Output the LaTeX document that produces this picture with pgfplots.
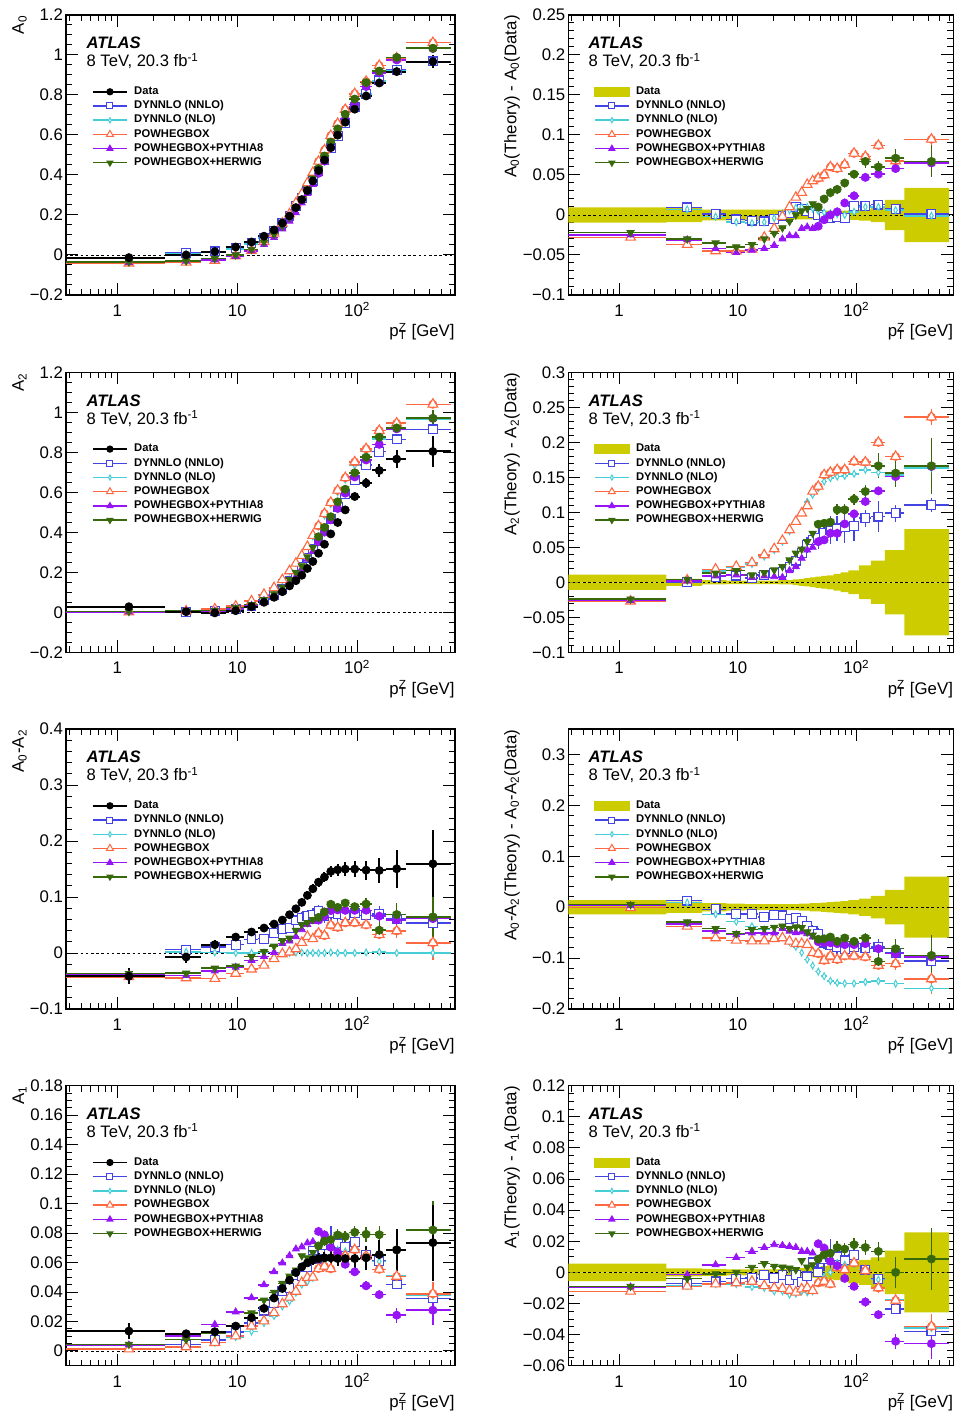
\documentclass[border=0pt]{standalone}
\usepackage{fontspec}
\setmainfont{Liberation Sans}
\usepackage{pgfplots}
\usepackage{pgfplotstable}
\pgfplotsset{compat=1.18}

\definecolor{cNN}{RGB}{68,68,228}
\definecolor{cNL}{RGB}{70,206,214}
\definecolor{cPO}{RGB}{255,104,64}
\definecolor{cPY}{RGB}{150,20,245}
\definecolor{cHW}{RGB}{55,105,10}
\definecolor{cBand}{RGB}{204,204,0}

\newcommand{\tkf}{\fontsize{8.4}{10}\selectfont}
\newcommand{\lgf}{\fontsize{5.6}{6.5}\selectfont\bfseries}

\pgfplotsset{
  hb/.style={forget plot, jump mark left, mark=none, line width=#1},
  mk/.style={forget plot, only marks, skip coords between index={23}{24}},
  ve/.style={forget plot, only marks, mark=none, skip coords between index={0}{#1}, skip coords between index={23}{24},
    error bars/y dir=both, error bars/y explicit, error bars/error mark=none,
    error bars/error bar style={line width=0.75pt}},
  zl/.style={forget plot, black, line width=0.4pt, dash pattern=on 1.3pt off 1.3pt, mark=none},
  every axis/.append style={
    scale only axis, height=140pt, anchor=north west,
    xmode=log, xmin=0.374, xmax=652,
    xtick={1,10,100}, xticklabels={1,10,{10\textsuperscript{2}}},
    minor xtick={0.4,0.5,0.6,0.7,0.8,0.9,2,3,4,5,6,7,8,9,20,30,40,50,60,70,80,90,200,300,400,500,600},
    tick align=inside, major tick length=6pt, minor tick length=3pt,
    every tick/.style={black, line width=0.5pt},
    axis line style={line width=0.6pt},
    tick label style={font=\tkf},
    yticklabel style={inner xsep=1.3pt},
    xticklabel style={anchor=base, yshift=-10.8pt},
    xlabel={p\rlap{\textsuperscript{Z}}\textsubscript{T} [GeV]},
    legend cell align=left,
    legend style={draw=none, fill=none, font=\lgf, at={(axis description cs:0.066,0.75)}, anchor=north west, inner sep=0pt, row sep=0.7pt, column sep=2.6pt, nodes={inner sep=0.6pt, text height=4pt, text depth=1.2pt}},
  },
  every axis x label/.style={at={(axis description cs:1,-0.149)}, anchor=base east, inner sep=0pt, font=\tkf},
  every axis y label/.style={at={(axis description cs:-0.1,1)}, rotate=90, anchor=south east, inner sep=0pt, font=\tkf},
}

\newcommand{\theory}[1]{%
  \addplot[hb=0.75pt, cNN] table[x expr=\thisrow{x}-\thisrow{exm}, y=nn]{#1};
  \addplot[ve=8, cNN] table[x=x, y=nn, y error=nne]{#1};
  \addplot[mk, cNN, mark=square*, mark size=2.2pt, mark options={line width=0.55pt, fill=white}] table[x=x, y=nn]{#1};
  \addplot[hb=0.75pt, cNL] table[x expr=\thisrow{x}-\thisrow{exm}, y=nl]{#1};
  \addplot[mk, cNL, mark=diamond*, mark size=1.7pt, mark options={line width=0.5pt, xscale=0.7, fill=white}] table[x=x, y=nl]{#1};
  \addplot[hb=0.75pt, cPO] table[x expr=\thisrow{x}-\thisrow{exm}, y=po]{#1};
  \addplot[ve=13, cPO] table[x=x, y=po, y error=poe]{#1};
  \addplot[mk, cPO, mark=triangle*, mark size=2.8pt, mark options={line width=0.55pt, fill=white}] table[x=x, y=po]{#1};
  \addplot[hb=0.75pt, cPY] table[x expr=\thisrow{x}-\thisrow{exm}, y=py]{#1};
  \addplot[ve=13, cPY] table[x=x, y=py, y error=pye]{#1};
  \addplot[mk, cPY, mark=triangle*, mark size=2pt] table[x=x, y=py]{#1};
  \addplot[hb=0.75pt, cHW] table[x expr=\thisrow{x}-\thisrow{exm}, y=hw]{#1};
  \addplot[ve=13, cHW] table[x=x, y=hw, y error=hwe]{#1};
  \addplot[mk, cHW, mark=triangle*, mark size=2.1pt, mark options={rotate=180}] table[x=x, y=hw]{#1};
}
\newcommand{\leftplots}[1]{%
  \addplot[zl] coordinates {(0.3,0) (700,0)};
  \theory{#1}
  \addplot[hb=1pt, black] table[x expr=\thisrow{x}-\thisrow{exm}, y=d]{#1};
  \addplot[mk, black, mark=*, mark size=2pt, error bars/y dir=both, error bars/y explicit, error bars/error mark=none, error bars/error bar style={line width=1pt}] table[x=x, y=d, y error=de]{#1};
}
\newcommand{\rightplots}[2]{%
  \addplot[forget plot, draw=none, fill=cBand, const plot, mark=none] table[x=lo,y=de]{#2} \closedcycle;
  \addplot[forget plot, draw=none, fill=cBand, const plot, mark=none] table[x=lo,y expr=-\thisrow{de}]{#2} \closedcycle;
  \addplot[zl] coordinates {(0.3,0) (700,0)};
  \theory{#1}
}
\newcommand{\legcommon}{%
  \addlegendimage{cNN, line width=0.7pt, mark=square*, mark size=1.5pt, mark options={line width=0.5pt, fill=white}}
  \addlegendentry{DYNNLO (NNLO)}
  \addlegendimage{cNL, line width=0.7pt, mark=diamond*, mark size=1.3pt, mark options={line width=0.5pt, xscale=0.7, fill=white}}
  \addlegendentry{DYNNLO (NLO)}
  \addlegendimage{cPO, line width=0.7pt, mark=triangle*, mark size=2pt, mark options={line width=0.5pt, fill=white}}
  \addlegendentry{POWHEGBOX}
  \addlegendimage{cPY, line width=0.7pt, mark=triangle*, mark size=1.5pt}
  \addlegendentry{POWHEGBOX+PYTHIA8}
  \addlegendimage{cHW, line width=0.7pt, mark=triangle*, mark size=1.5pt, mark options={rotate=180}}
  \addlegendentry{POWHEGBOX+HERWIG}
}
\newcommand{\legL}{\addlegendimage{black, line width=0.8pt, mark=*, mark size=1.4pt}\addlegendentry{Data}\legcommon}
\newcommand{\legR}{\addlegendimage{legend image code/.code={\fill[cBand] (0cm,-0.08cm) rectangle (0.6cm,0.08cm);}}\addlegendentry{Data}\legcommon}
\newcommand{\atl}{%
  \node[anchor=base west, inner sep=0pt, font=\fontsize{8.3}{10}\selectfont\bfseries\itshape] at (rel axis cs:0.052,0.879) {ATLAS};
  \node[anchor=base west, inner sep=0pt, font=\fontsize{8.3}{10}\selectfont] at (rel axis cs:0.052,0.815) {8 TeV, 20.3 fb\textsuperscript{-1}};
}

% ---------------- A0 ----------------
\pgfplotstableread{
x exm exp d de nn nne nl po poe py pye hw hwe
1.25 0.95 1.25 -0.013 0.0095 nan nan nan -0.041 0.002 -0.038 0.002 -0.035 0.002
3.75 1.25 1.25 0.000 0.009 0.0095 0.002 0.007 -0.037 0.002 -0.031 0.002 -0.030 0.002
6.5 1.5 1.5 0.017 0.0068 0.018 0.002 0.015 -0.028 0.002 -0.025 0.002 -0.018 0.002
9.7 1.7 1.7 0.040 0.0068 0.0345 0.002 0.031 -0.005 0.002 -0.007 0.002 0.000 0.002
13.15 1.75 1.75 0.065 0.0068 0.058 0.002 0.055 0.022 0.002 0.021 0.002 0.028 0.002
16.7 1.8 1.8 0.094 0.0068 0.086 0.002 0.085 0.066 0.002 0.052 0.002 0.064 0.002
20.25 1.75 1.75 0.125 0.0068 0.120 0.002 0.121 0.108 0.002 0.087 0.002 0.102 0.002
23.75 1.75 1.75 0.160 0.0068 0.159 0.002 0.162 0.158 0.002 0.130 0.002 0.144 0.002
27.25 1.75 1.75 0.195 0.0068 0.197 0.002 0.201 0.205 0.002 0.169 0.002 0.187 0.002
30.8 1.8 1.8 0.237 0.0055 0.247 0.002 0.246 0.259 0.002 0.211 0.002 0.237 0.002
34.5 1.9 1.9 0.277 0.0055 0.285 0.002 0.287 0.305 0.002 0.260 0.002 0.282 0.002
38.4 2.0 2.0 0.322 0.0055 0.327 0.002 0.332 0.360 0.002 0.307 0.002 0.330 0.002
42.65 2.25 2.25 0.370 0.0055 0.372 0.002 0.378 0.4125 0.002 0.353 0.002 0.384 0.002
47.55 2.65 2.65 0.422 0.0055 0.422 0.002 0.427 0.468 0.002 0.408 0.002 0.432 0.002
53.3 3.1 3.1 0.475 0.0055 0.473 0.002 0.478 0.525 0.002 0.469 0.002 0.495 0.002
60.15 3.75 3.75 0.537 0.0055 0.533 0.002 0.539 0.597 0.002 0.537 0.002 0.565 0.003
68.65 4.75 4.75 0.599 0.0055 0.596 0.002 0.600 0.657 0.002 0.603 0.002 0.631 0.003
79.4 6.0 6.0 0.664 0.0055 0.660 0.003 0.664 0.727 0.003 0.679 0.003 0.704 0.003
95.2 9.8 9.8 0.729 0.006 0.740 0.003 0.733 0.806 0.003 0.753 0.003 0.780 0.004
118.5 13.5 13.5 0.795 0.007 0.806 0.003 0.805 0.868 0.004 0.842 0.004 0.862 0.008
152.5 20.5 20.5 0.860 0.009 0.873 0.003 0.870 0.947 0.004 0.911 0.004 0.920 0.008
213 40 40 0.917 0.019 0.9245 0.004 0.923 0.9845 0.005 0.975 0.005 0.988 0.011
426.5 173.5 173.5 0.967 0.034 0.968 0.004 0.966 1.0616 0.008 1.032 0.008 1.034 0.020
600 0 0 0.967 0 0.968 0 0.966 1.0616 0 1.032 0 1.034 0
}\tA
\pgfplotstableread{
x exm exp nn nne nl po poe py pye hw hwe
1.25 0.95 1.25 nan nan nan -0.028 0.002 -0.025 0.002 -0.022 0.002
3.75 1.25 1.25 0.0095 0.002 0.007 -0.037 0.002 -0.031 0.002 -0.030 0.002
6.5 1.5 1.5 0.001 0.002 -0.002 -0.045 0.002 -0.042 0.002 -0.035 0.002
9.7 1.7 1.7 -0.0055 0.002 -0.009 -0.045 0.002 -0.047 0.002 -0.040 0.002
13.15 1.75 1.75 -0.007 0.002 -0.010 -0.043 0.002 -0.044 0.002 -0.037 0.002
16.7 1.8 1.8 -0.008 0.002 -0.009 -0.028 0.002 -0.042 0.002 -0.030 0.002
20.25 1.75 1.75 -0.005 0.002 -0.004 -0.017 0.002 -0.038 0.002 -0.023 0.002
23.75 1.75 1.75 -0.001 0.002 0.002 -0.002 0.002 -0.030 0.002 -0.016 0.002
27.25 1.75 1.75 0.002 0.002 0.006 0.010 0.002 -0.026 0.002 -0.008 0.002
30.8 1.8 1.8 0.010 0.002 0.009 0.022 0.002 -0.026 0.002 0.000 0.002
34.5 1.9 1.9 0.008 0.002 0.010 0.028 0.002 -0.017 0.002 0.005 0.002
38.4 2.0 2.0 0.005 0.002 0.010 0.038 0.002 -0.015 0.002 0.008 0.002
42.65 2.25 2.25 0.002 0.002 0.008 0.0425 0.002 -0.017 0.002 0.014 0.002
47.55 2.65 2.65 0.000 0.002 0.005 0.046 0.002 -0.014 0.002 0.010 0.002
53.3 3.1 3.1 -0.002 0.002 0.003 0.050 0.002 -0.006 0.002 0.020 0.002
60.15 3.75 3.75 -0.004 0.002 0.002 0.060 0.002 0.000 0.002 0.028 0.003
68.65 4.75 4.75 -0.003 0.002 0.001 0.058 0.002 0.004 0.002 0.032 0.003
79.4 6.0 6.0 -0.004 0.003 0.000 0.063 0.003 0.015 0.003 0.040 0.003
95.2 9.8 9.8 0.011 0.003 0.004 0.077 0.003 0.024 0.003 0.051 0.004
118.5 13.5 13.5 0.011 0.003 0.010 0.073 0.004 0.047 0.004 0.067 0.008
152.5 20.5 20.5 0.013 0.003 0.010 0.087 0.004 0.051 0.004 0.060 0.008
213 40 40 0.0075 0.004 0.006 0.0675 0.005 0.058 0.005 0.071 0.011
426.5 173.5 173.5 0.001 0.004 -0.001 0.0946 0.008 0.065 0.008 0.067 0.020
600 0 0 0.001 0 -0.001 0.0946 0 0.065 0 0.067 0
}\tdA
\pgfplotstableread{
lo de
0.3 0.0095
2.5 0.009
5 0.0068
8 0.0068
11.4 0.0068
14.9 0.0068
18.5 0.0068
22 0.0068
25.5 0.0068
29 0.0055
32.6 0.0055
36.4 0.0055
40.4 0.0055
44.9 0.0055
50.2 0.0055
56.4 0.0055
63.9 0.0055
73.4 0.0055
85.4 0.006
105 0.007
132 0.009
173 0.019
253 0.034
600 0.034
}\bA

% ---------------- A2 ----------------
\pgfplotstableread{
x exm exp d de nn nne nl po poe py pye hw hwe
1.25 0.95 1.25 0.028 0.011 nan nan nan 0.001 0.002 0.002 0.002 0.004 0.002
3.75 1.25 1.25 0.003 0.005 0.003 0.003 0.005 0.006 0.002 0.005 0.002 0.007 0.002
6.5 1.5 1.5 -0.003 0.003 0.005 0.003 0.013 0.0156 0.002 0.006 0.002 0.010 0.002
9.7 1.7 1.7 0.008 0.0025 0.0175 0.003 0.029 0.0305 0.002 0.0185 0.002 0.0247 0.002
13.15 1.75 1.75 0.028 0.0025 0.0337 0.003 0.054 0.056 0.002 0.035 0.002 0.0385 0.002
16.7 1.8 1.8 0.050 0.0025 0.0605 0.003 0.0867 0.089 0.002 0.059 0.002 0.0638 0.002
20.25 1.75 1.75 0.075 0.0025 0.0879 0.003 0.121 0.1227 0.002 0.083 0.002 0.0926 0.002
23.75 1.75 1.75 0.103 0.003 0.118 0.003 0.161 0.1626 0.002 0.110 0.002 0.1254 0.002
27.25 1.75 1.75 0.132 0.003 0.1544 0.006 0.205 0.2068 0.002 0.1487 0.002 0.164 0.002
30.8 1.8 1.8 0.158 0.004 0.189 0.008 0.246 0.2448 0.002 0.1804 0.002 0.1995 0.002
34.5 1.9 1.9 0.185 0.005 0.2265 0.010 0.286 0.2837 0.002 0.2193 0.002 0.2323 0.002
38.4 2.0 2.0 0.219 0.006 0.2724 0.012 0.334 0.328 0.002 0.265 0.002 0.277 0.002
42.65 2.25 2.25 0.254 0.007 0.3145 0.012 0.379 0.384 0.002 0.304 0.002 0.324 0.004
47.55 2.65 2.65 0.295 0.008 0.358 0.015 0.4295 0.432 0.002 0.353 0.002 0.378 0.004
53.3 3.1 3.1 0.340 0.009 0.410 0.015 0.484 0.4935 0.002 0.4005 0.002 0.4244 0.004
60.15 3.75 3.75 0.392 0.010 0.466 0.020 0.5408 0.549 0.002 0.462 0.002 0.478 0.004
68.65 4.75 4.75 0.449 0.012 0.526 0.018 0.600 0.6097 0.003 0.519 0.003 0.5525 0.008
79.4 6.0 6.0 0.512 0.014 0.5907 0.022 0.664 0.6727 0.003 0.5954 0.003 0.6155 0.008
95.2 9.8 9.8 0.579 0.017 0.6596 0.022 0.734 0.7516 0.004 0.6767 0.004 0.6977 0.008
118.5 13.5 13.5 0.646 0.024 0.7375 0.012 0.8067 0.8176 0.004 0.7614 0.005 0.7757 0.010
152.5 20.5 20.5 0.709 0.031 0.8029 0.022 0.866 0.9088 0.005 0.8396 0.006 0.8754 0.018
213 40 40 0.766 0.046 0.8647 0.012 0.9195 0.9457 0.007 0.917 0.010 0.922 0.020
426.5 173.5 173.5 0.804 0.076 0.9146 0.010 0.967 1.040 0.012 0.9694 0.020 0.9704 0.040
600 0 0 0.804 0 0.9146 0 0.967 1.040 0 0.9694 0 0.9704 0
}\tB
\pgfplotstableread{
x exm exp nn nne nl po poe py pye hw hwe
1.25 0.95 1.25 nan nan nan -0.027 0.002 -0.026 0.002 -0.024 0.002
3.75 1.25 1.25 0.000 0.003 0.002 0.003 0.002 0.002 0.002 0.004 0.002
6.5 1.5 1.5 0.008 0.003 0.016 0.0186 0.002 0.009 0.002 0.013 0.002
9.7 1.7 1.7 0.0095 0.003 0.021 0.0225 0.002 0.0105 0.002 0.0167 0.002
13.15 1.75 1.75 0.0057 0.003 0.026 0.028 0.002 0.007 0.002 0.0105 0.002
16.7 1.8 1.8 0.0105 0.003 0.0367 0.039 0.002 0.009 0.002 0.0138 0.002
20.25 1.75 1.75 0.0129 0.003 0.046 0.0477 0.002 0.008 0.002 0.0176 0.002
23.75 1.75 1.75 0.015 0.003 0.058 0.0596 0.002 0.007 0.002 0.0224 0.002
27.25 1.75 1.75 0.0224 0.006 0.073 0.0748 0.002 0.0167 0.002 0.032 0.002
30.8 1.8 1.8 0.031 0.008 0.088 0.0868 0.002 0.0224 0.002 0.0415 0.002
34.5 1.9 1.9 0.0415 0.010 0.101 0.0987 0.002 0.0343 0.002 0.0473 0.002
38.4 2.0 2.0 0.0534 0.012 0.115 0.109 0.002 0.046 0.002 0.058 0.002
42.65 2.25 2.25 0.0605 0.012 0.125 0.130 0.002 0.050 0.002 0.070 0.004
47.55 2.65 2.65 0.063 0.015 0.1345 0.137 0.002 0.058 0.002 0.083 0.004
53.3 3.1 3.1 0.070 0.015 0.144 0.1535 0.002 0.0605 0.002 0.0844 0.004
60.15 3.75 3.75 0.074 0.020 0.1488 0.157 0.002 0.070 0.002 0.086 0.004
68.65 4.75 4.75 0.077 0.018 0.151 0.1607 0.003 0.070 0.003 0.1035 0.008
79.4 6.0 6.0 0.0787 0.022 0.152 0.1607 0.003 0.0834 0.003 0.1035 0.008
95.2 9.8 9.8 0.0806 0.022 0.155 0.1726 0.004 0.0977 0.004 0.1187 0.008
118.5 13.5 13.5 0.0915 0.012 0.1607 0.1716 0.004 0.1154 0.005 0.1297 0.010
152.5 20.5 20.5 0.0939 0.022 0.157 0.1998 0.005 0.1306 0.006 0.1664 0.018
213 40 40 0.0987 0.012 0.1535 0.1797 0.007 0.151 0.010 0.156 0.020
426.5 173.5 173.5 0.1106 0.010 0.163 0.236 0.012 0.1654 0.020 0.1664 0.040
600 0 0 0.1106 0 0.163 0.236 0 0.1654 0 0.1664 0
}\tdB
\pgfplotstableread{
lo de
0.3 0.011
2.5 0.005
5 0.003
8 0.0025
11.4 0.0025
14.9 0.0025
18.5 0.0025
22 0.003
25.5 0.003
29 0.004
32.6 0.005
36.4 0.006
40.4 0.007
44.9 0.008
50.2 0.009
56.4 0.010
63.9 0.012
73.4 0.014
85.4 0.017
105 0.024
132 0.031
173 0.046
253 0.076
600 0.076
}\bB

% ---------------- A0-A2 ----------------
\pgfplotstableread{
x exm exp d de nn nne nl po poe py pye hw hwe
1.25 0.95 1.25 -0.0416 0.014 nan nan nan -0.0426 0.002 -0.0386 0.002 -0.0366 0.002
3.75 1.25 1.25 -0.0071 0.011 0.0059 0.003 0.002 -0.0446 0.002 -0.0401 0.002 -0.0361 0.002
6.5 1.5 1.5 0.0149 0.008 0.0107 0.003 0.001 -0.0456 0.002 -0.0321 0.002 -0.0271 0.002
9.7 1.7 1.7 0.0285 0.007 0.0149 0.003 0.000 -0.0365 0.002 -0.0255 0.002 -0.0235 0.002
13.15 1.75 1.75 0.0375 0.006 0.0245 0.003 0.000 -0.029 0.002 -0.0132 0.002 -0.0065 0.002
16.7 1.8 1.8 0.0446 0.006 0.0256 0.004 0.001 -0.0219 0.002 -0.0061 0.002 0.0026 0.002
20.25 1.75 1.75 0.0517 0.006 0.0357 0.004 0.001 -0.0103 0.002 0.001 0.002 0.0122 0.002
23.75 1.75 1.75 0.0589 0.006 0.0428 0.005 0.000 -0.0016 0.002 0.0169 0.002 0.0219 0.002
27.25 1.75 1.75 0.0684 0.006 0.0446 0.008 0.000 0.0014 0.002 0.0214 0.002 0.0264 0.002
30.8 1.8 1.8 0.079 0.006 0.0583 0.008 0.001 0.0073 0.002 0.029 0.002 0.0402 0.002
34.5 1.9 1.9 0.0904 0.007 0.063 0.010 0.001 0.0187 0.002 0.0417 0.002 0.0504 0.002
38.4 2.0 2.0 0.1029 0.007 0.066 0.010 0.000 0.0292 0.002 0.0509 0.002 0.0542 0.002
42.65 2.25 2.25 0.1147 0.008 0.0677 0.012 0.000 0.0252 0.002 0.0561 0.002 0.0597 0.004
47.55 2.65 2.65 0.1266 0.008 0.0746 0.012 0.000 0.0352 0.002 0.0586 0.002 0.0636 0.004
53.3 3.1 3.1 0.1356 0.009 0.066 0.012 0.000 0.031 0.002 0.0656 0.002 0.0736 0.004
60.15 3.75 3.75 0.1457 0.010 0.0707 0.015 0.001 0.0497 0.003 0.0757 0.003 0.0871 0.006
68.65 4.75 4.75 0.1486 0.011 0.070 0.015 0.000 0.0456 0.003 0.0769 0.003 0.0816 0.006
79.4 6.0 6.0 0.1498 0.012 0.068 0.018 0.000 0.0538 0.004 0.0761 0.004 0.0893 0.008
95.2 9.8 9.8 0.1498 0.014 0.071 0.018 0.000 0.0538 0.004 0.0761 0.004 0.0828 0.008
118.5 13.5 13.5 0.148 0.017 0.067 0.015 0.001 0.050 0.005 0.0763 0.005 0.0875 0.010
152.5 20.5 20.5 0.1474 0.022 0.0694 0.015 0.002 0.0329 0.008 0.0658 0.008 0.0408 0.015
213 40 40 0.1504 0.034 0.061 0.010 0.000 0.0394 0.012 0.059 0.012 0.0688 0.020
426.5 173.5 173.5 0.1593 0.060 0.0535 0.010 0.000 0.0183 0.030 0.0613 0.030 0.0646 0.040
600 0 0 0.1593 0 0.0535 0 0.000 0.0183 0 0.0613 0 0.0646 0
}\tC
\pgfplotstableread{
x exm exp nn nne nl po poe py pye hw hwe
1.25 0.95 1.25 nan nan nan -0.001 0.002 0.003 0.002 0.005 0.002
3.75 1.25 1.25 0.013 0.003 0.0091 -0.0375 0.002 -0.033 0.002 -0.029 0.002
6.5 1.5 1.5 -0.0042 0.003 -0.0139 -0.0605 0.002 -0.047 0.002 -0.042 0.002
9.7 1.7 1.7 -0.0136 0.003 -0.0285 -0.065 0.002 -0.054 0.002 -0.052 0.002
13.15 1.75 1.75 -0.013 0.003 -0.0375 -0.0665 0.002 -0.0507 0.002 -0.044 0.002
16.7 1.8 1.8 -0.019 0.004 -0.0436 -0.0665 0.002 -0.0507 0.002 -0.042 0.002
20.25 1.75 1.75 -0.016 0.004 -0.0507 -0.062 0.002 -0.0507 0.002 -0.0395 0.002
23.75 1.75 1.75 -0.0161 0.005 -0.0589 -0.0605 0.002 -0.042 0.002 -0.037 0.002
27.25 1.75 1.75 -0.0238 0.008 -0.0684 -0.067 0.002 -0.047 0.002 -0.042 0.002
30.8 1.8 1.8 -0.0207 0.008 -0.078 -0.0717 0.002 -0.050 0.002 -0.0388 0.002
34.5 1.9 1.9 -0.0274 0.010 -0.0894 -0.0717 0.002 -0.0487 0.002 -0.040 0.002
38.4 2.0 2.0 -0.0369 0.010 -0.1029 -0.0737 0.002 -0.052 0.002 -0.0487 0.002
42.65 2.25 2.25 -0.047 0.012 -0.1147 -0.0895 0.002 -0.0586 0.002 -0.055 0.004
47.55 2.65 2.65 -0.052 0.012 -0.1266 -0.0914 0.002 -0.068 0.002 -0.063 0.004
53.3 3.1 3.1 -0.0696 0.012 -0.1356 -0.1046 0.002 -0.070 0.002 -0.062 0.004
60.15 3.75 3.75 -0.075 0.015 -0.1447 -0.096 0.003 -0.070 0.003 -0.0586 0.006
68.65 4.75 4.75 -0.0786 0.015 -0.1486 -0.103 0.003 -0.0717 0.003 -0.067 0.006
79.4 6.0 6.0 -0.0818 0.018 -0.1498 -0.096 0.004 -0.0737 0.004 -0.0605 0.008
95.2 9.8 9.8 -0.0788 0.018 -0.1498 -0.096 0.004 -0.0737 0.004 -0.067 0.008
118.5 13.5 13.5 -0.081 0.015 -0.147 -0.098 0.005 -0.0717 0.005 -0.0605 0.010
152.5 20.5 20.5 -0.078 0.015 -0.1454 -0.1145 0.008 -0.0816 0.008 -0.1066 0.015
213 40 40 -0.0894 0.010 -0.1504 -0.111 0.012 -0.0914 0.012 -0.0816 0.020
426.5 173.5 173.5 -0.1058 0.010 -0.1593 -0.141 0.030 -0.098 0.030 -0.0947 0.040
600 0 0 -0.1058 0 -0.1593 -0.141 0 -0.098 0 -0.0947 0
}\tdC
\pgfplotstableread{
lo de
0.3 0.014
2.5 0.011
5 0.008
8 0.007
11.4 0.006
14.9 0.006
18.5 0.006
22 0.006
25.5 0.006
29 0.006
32.6 0.007
36.4 0.007
40.4 0.008
44.9 0.008
50.2 0.009
56.4 0.010
63.9 0.011
73.4 0.012
85.4 0.014
105 0.017
132 0.022
173 0.034
253 0.060
600 0.060
}\bC

% ---------------- A1 ----------------
\pgfplotstableread{
x exm exp d de nn nne nl po poe py pye hw hwe
1.25 0.95 1.25 0.0135 0.0057 nan nan nan 0.0013 0.001 0.0041 0.001 0.0045 0.001
3.75 1.25 1.25 0.0117 0.0025 0.0044 0.0015 0.0031 0.0027 0.001 0.0102 0.001 0.0077 0.001
6.5 1.5 1.5 0.0131 0.0022 0.0073 0.0015 0.0056 0.0056 0.001 0.018 0.001 0.0122 0.001
9.7 1.7 1.7 0.0169 0.002 0.0129 0.0015 0.0094 0.0101 0.001 0.0265 0.001 0.0169 0.001
13.15 1.75 1.75 0.0226 0.002 0.019 0.0015 0.0132 0.0168 0.001 0.0361 0.001 0.0258 0.001
16.7 1.8 1.8 0.0289 0.002 0.0274 0.0015 0.0189 0.0203 0.001 0.0449 0.001 0.0345 0.001
20.25 1.75 1.75 0.0359 0.002 0.0323 0.0015 0.0237 0.0259 0.001 0.0537 0.001 0.0398 0.001
23.75 1.75 1.75 0.0424 0.0022 0.0405 0.0015 0.0302 0.0319 0.001 0.0597 0.001 0.0458 0.001
27.25 1.75 1.75 0.048 0.0024 0.0429 0.0015 0.0337 0.0364 0.001 0.0647 0.001 0.0508 0.001
30.8 1.8 1.8 0.0532 0.0026 0.0513 0.0015 0.0395 0.0404 0.001 0.0692 0.001 0.0549 0.001
34.5 1.9 1.9 0.0571 0.0028 0.0507 0.003 0.0449 0.0464 0.001 0.0706 0.001 0.0646 0.002
38.4 2.0 2.0 0.0598 0.003 0.0572 0.003 0.047 0.0498 0.001 0.0733 0.001 0.0632 0.002
42.65 2.25 2.25 0.0618 0.0033 0.0682 0.003 0.0496 0.050 0.001 0.0742 0.001 0.0667 0.002
47.55 2.65 2.65 0.0627 0.0036 0.0627 0.006 0.0559 0.0559 0.001 0.0811 0.001 0.0713 0.002
53.3 3.1 3.1 0.0632 0.004 0.0718 0.008 0.0606 0.0574 0.001 0.0788 0.001 0.0745 0.002
60.15 3.75 3.75 0.0632 0.0045 0.0728 0.012 0.0632 0.0557 0.001 0.0703 0.001 0.0756 0.002
68.65 4.75 4.75 0.0627 0.005 0.073 0.006 0.0687 0.0659 0.002 0.067 0.002 0.0787 0.004
79.4 6.0 6.0 0.0627 0.006 0.0704 0.004 0.0676 0.0644 0.002 0.0588 0.002 0.0777 0.004
95.2 9.8 9.8 0.0627 0.007 0.074 0.004 0.0681 0.0687 0.002 0.0537 0.002 0.0805 0.004
118.5 13.5 13.5 0.0632 0.008 0.0649 0.003 0.0649 0.0643 0.002 0.0442 0.003 0.0792 0.005
152.5 20.5 20.5 0.0654 0.0096 0.0611 0.003 0.0607 0.0554 0.003 0.0382 0.003 0.0789 0.006
213 40 40 0.0686 0.014 0.0451 0.003 0.051 0.0506 0.004 0.0243 0.005 0.0686 0.010
426.5 173.5 173.5 0.0735 0.0257 0.0356 0.003 0.0378 0.0388 0.008 0.0277 0.010 0.0821 0.020
600 0 0 0.0735 0 0.0356 0 0.0378 0.0388 0 0.0277 0 0.0821 0
}\tD
\pgfplotstableread{
x exm exp nn nne nl po poe py pye hw hwe
1.25 0.95 1.25 nan nan nan -0.0122 0.001 -0.0094 0.001 -0.009 0.001
3.75 1.25 1.25 -0.0073 0.0015 -0.0086 -0.009 0.001 -0.0015 0.001 -0.004 0.001
6.5 1.5 1.5 -0.0058 0.0015 -0.0075 -0.0075 0.001 0.0049 0.001 -0.0009 0.001
9.7 1.7 1.7 -0.004 0.0015 -0.0075 -0.0068 0.001 0.0096 0.001 0.000 0.001
13.15 1.75 1.75 -0.0036 0.0015 -0.0094 -0.0058 0.001 0.0135 0.001 0.0032 0.001
16.7 1.8 1.8 -0.0015 0.0015 -0.010 -0.0086 0.001 0.016 0.001 0.0056 0.001
20.25 1.75 1.75 -0.0036 0.0015 -0.0122 -0.010 0.001 0.0178 0.001 0.0039 0.001
23.75 1.75 1.75 -0.0019 0.0015 -0.0122 -0.0105 0.001 0.0173 0.001 0.0034 0.001
27.25 1.75 1.75 -0.0051 0.0015 -0.0143 -0.0116 0.001 0.0167 0.001 0.0028 0.001
30.8 1.8 1.8 -0.0019 0.0015 -0.0137 -0.0128 0.001 0.016 0.001 0.0017 0.001
34.5 1.9 1.9 -0.0064 0.003 -0.0122 -0.0107 0.001 0.0135 0.001 0.0075 0.002
38.4 2.0 2.0 -0.0026 0.003 -0.0128 -0.010 0.001 0.0135 0.001 0.0034 0.002
42.65 2.25 2.25 0.0064 0.003 -0.0122 -0.0118 0.001 0.0124 0.001 0.0049 0.002
47.55 2.65 2.65 0.000 0.006 -0.0068 -0.0068 0.001 0.0184 0.001 0.0086 0.002
53.3 3.1 3.1 0.0086 0.008 -0.0026 -0.0058 0.001 0.0156 0.001 0.0113 0.002
60.15 3.75 3.75 0.0096 0.012 0.000 -0.0075 0.001 0.0071 0.001 0.0124 0.002
68.65 4.75 4.75 0.0103 0.006 0.006 0.0032 0.002 0.0043 0.002 0.016 0.004
79.4 6.0 6.0 0.0077 0.004 0.0049 0.0017 0.002 -0.0039 0.002 0.015 0.004
95.2 9.8 9.8 0.0113 0.004 0.0054 0.006 0.002 -0.009 0.002 0.0178 0.004
118.5 13.5 13.5 0.0017 0.003 0.0017 0.0011 0.002 -0.019 0.003 0.016 0.005
152.5 20.5 20.5 -0.0043 0.003 -0.0047 -0.010 0.003 -0.0272 0.003 0.0135 0.006
213 40 40 -0.0235 0.003 -0.0176 -0.018 0.004 -0.0443 0.005 0.000 0.010
426.5 173.5 173.5 -0.0379 0.003 -0.0357 -0.0347 0.008 -0.0458 0.010 0.0086 0.020
600 0 0 -0.0379 0 -0.0357 -0.0347 0 -0.0458 0 0.0086 0
}\tdD
\pgfplotstableread{
lo de
0.3 0.0057
2.5 0.0025
5 0.0022
8 0.002
11.4 0.002
14.9 0.002
18.5 0.002
22 0.0022
25.5 0.0024
29 0.0026
32.6 0.0028
36.4 0.003
40.4 0.0033
44.9 0.0036
50.2 0.004
56.4 0.0045
63.9 0.005
73.4 0.006
85.4 0.007
105 0.008
132 0.0096
173 0.014
253 0.0257
600 0.0257
}\bD

\begin{document}
\begin{tikzpicture}
\useasboundingbox (0,0) rectangle (480pt,-708pt);

% Row 1
\begin{axis}[width=194.5pt, at={(33pt,-7.5pt)}, ymin=-0.2, ymax=1.2,
  ytick={-0.2,0,0.2,0.4,0.6,0.8,1,1.2}, yticklabels={−0.2,0,0.2,0.4,0.6,0.8,1,1.2},
  minor y tick num=3, ylabel={A\textsubscript{0}}]
\legL
\leftplots{\tA}
\atl
\end{axis}
\begin{axis}[width=192.5pt, at={(284.15pt,-7.5pt)}, ylabel style={at={(axis description cs:-0.125,1)}}, ymin=-0.1, ymax=0.25,
  ytick={-0.1,-0.05,0,0.05,0.1,0.15,0.2,0.25}, yticklabels={−0.1,−0.05,0,0.05,0.1,0.15,0.2,0.25},
  minor y tick num=4, ylabel={A\textsubscript{0}(Theory) - A\textsubscript{0}(Data)}]
\legR
\rightplots{\tdA}{\bA}
\atl
\end{axis}

% Row 2
\begin{axis}[width=194.5pt, at={(33pt,-186.15pt)}, ymin=-0.2, ymax=1.2,
  ytick={-0.2,0,0.2,0.4,0.6,0.8,1,1.2}, yticklabels={−0.2,0,0.2,0.4,0.6,0.8,1,1.2},
  minor y tick num=3, ylabel={A\textsubscript{2}}]
\legL
\leftplots{\tB}
\atl
\end{axis}
\begin{axis}[width=192.5pt, at={(284.15pt,-186.15pt)}, ylabel style={at={(axis description cs:-0.125,1)}}, ymin=-0.1, ymax=0.3,
  ytick={-0.1,-0.05,0,0.05,0.1,0.15,0.2,0.25,0.3}, yticklabels={−0.1,−0.05,0,0.05,0.1,0.15,0.2,0.25,0.3},
  minor y tick num=4, ylabel={A\textsubscript{2}(Theory) - A\textsubscript{2}(Data)}]
\legR
\rightplots{\tdB}{\bB}
\atl
\end{axis}

% Row 3
\begin{axis}[width=194.5pt, at={(33pt,-364.5pt)}, ymin=-0.1, ymax=0.4,
  ytick={-0.1,0,0.1,0.2,0.3,0.4}, yticklabels={−0.1,0,0.1,0.2,0.3,0.4},
  minor y tick num=4, ylabel={A\textsubscript{0}-A\textsubscript{2}}]
\legL
\leftplots{\tC}
\atl
\end{axis}
\begin{axis}[width=192.5pt, at={(284.15pt,-364.5pt)}, ylabel style={at={(axis description cs:-0.125,1)}}, ymin=-0.2, ymax=0.35,
  ytick={-0.2,-0.1,0,0.1,0.2,0.3}, yticklabels={−0.2,−0.1,0,0.1,0.2,0.3},
  minor y tick num=4, ylabel={A\textsubscript{0}-A\textsubscript{2}(Theory) - A\textsubscript{0}-A\textsubscript{2}(Data)}]
\legR
\rightplots{\tdC}{\bC}
\atl
\end{axis}

% Row 4
\begin{axis}[width=194.5pt, at={(33pt,-542.85pt)}, ymin=-0.01, ymax=0.18,
  ytick={0,0.02,0.04,0.06,0.08,0.1,0.12,0.14,0.16,0.18}, yticklabels={0,0.02,0.04,0.06,0.08,0.1,0.12,0.14,0.16,0.18},
  minor y tick num=3, ylabel={A\textsubscript{1}}]
\legL
\leftplots{\tD}
\atl
\end{axis}
\begin{axis}[width=192.5pt, at={(284.15pt,-542.85pt)}, ylabel style={at={(axis description cs:-0.125,1)}}, ymin=-0.06, ymax=0.12,
  ytick={-0.06,-0.04,-0.02,0,0.02,0.04,0.06,0.08,0.1,0.12}, yticklabels={−0.06,−0.04,−0.02,0,0.02,0.04,0.06,0.08,0.1,0.12},
  minor y tick num=3, ylabel={A\textsubscript{1}(Theory) - A\textsubscript{1}(Data)}]
\legR
\rightplots{\tdD}{\bD}
\atl
\end{axis}
\end{tikzpicture}
\end{document}
